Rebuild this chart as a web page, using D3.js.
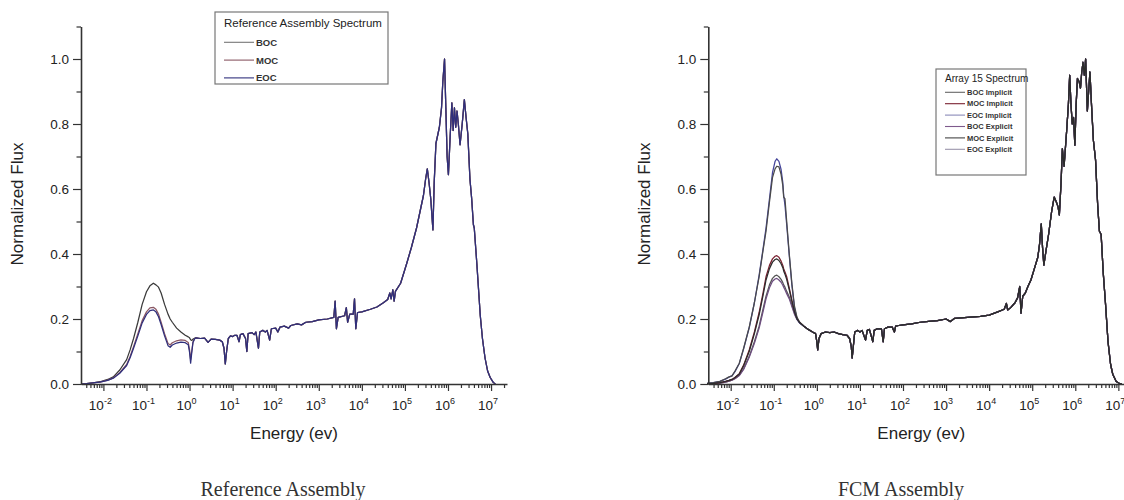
<!DOCTYPE html>
<html>
<head>
<meta charset="utf-8">
<script src="https://cdn.jsdelivr.net/npm/d3@7"></script>
<style>
  html, body { margin: 0; padding: 0; background: #fff; }
  svg { display: block; }
</style>
</head>
<body>
<svg id="chart" width="1124" height="500" font-family="Arial, 'Liberation Sans', sans-serif"></svg>
<script>
// ---------- Data (energy as log10 of eV, flux normalised to peak) ----------

// Reference assembly: thermal region, one grid for the three burnup states
const refThermalLogE = [-2.52, -2.39, -2.2, -2.08, -1.9, -1.77, -1.62, -1.46, -1.38, -1.3, -1.2, -1.1, -1.0, -0.92, -0.84, -0.78, -0.72, -0.66, -0.58, -0.5, -0.45, -0.4, -0.3, -0.2, -0.1, -0.03, 0.0, 0.025, 0.05, 0.08, 0.12];
const refBOCThermal = [0, 0.001, 0.004, 0.007, 0.014, 0.022, 0.043, 0.075, 0.105, 0.14, 0.19, 0.245, 0.284, 0.302, 0.31, 0.305, 0.298, 0.28, 0.245, 0.215, 0.2, 0.19, 0.172, 0.16, 0.15, 0.145, 0.142, 0.136, 0.134, 0.138, 0.141];
const refMOCThermal = [0, 0.001, 0.004, 0.006, 0.012, 0.019, 0.035, 0.06, 0.085, 0.115, 0.155, 0.195, 0.222, 0.234, 0.236, 0.23, 0.215, 0.19, 0.155, 0.125, 0.12, 0.127, 0.133, 0.136, 0.134, 0.128, 0.105, 0.075, 0.1, 0.13, 0.14];
const refEOCThermal = [0, 0.001, 0.004, 0.006, 0.011, 0.018, 0.033, 0.057, 0.081, 0.11, 0.148, 0.188, 0.214, 0.226, 0.228, 0.222, 0.207, 0.183, 0.148, 0.118, 0.113, 0.12, 0.126, 0.129, 0.127, 0.121, 0.098, 0.064, 0.095, 0.128, 0.139];

// Reference assembly: resonance and fast region (states coincide)
const refFastLogE = [0.15, 0.25, 0.35, 0.43, 0.5, 0.6, 0.7, 0.76, 0.8, 0.83, 0.86, 0.9, 0.95, 1.0, 1.05, 1.1, 1.15, 1.18, 1.24, 1.3, 1.33, 1.36, 1.45, 1.5, 1.54, 1.57, 1.6, 1.63, 1.7, 1.76, 1.8, 1.86, 1.9, 2.0, 2.05, 2.1, 2.2, 2.3, 2.35, 2.5, 2.6, 2.7, 2.85, 3.0, 3.2, 3.35, 3.38, 3.41, 3.45, 3.6, 3.64, 3.67, 3.72, 3.8, 3.83, 3.86, 3.9, 4.0, 4.2, 4.35, 4.5, 4.6, 4.65, 4.68, 4.72, 4.75, 4.78, 4.9, 5.04, 5.15, 5.27, 5.35, 5.43, 5.48, 5.52, 5.56, 5.6, 5.65, 5.68, 5.72, 5.8, 5.85, 5.88, 5.92, 5.95, 5.98, 6.01, 6.05, 6.09, 6.12, 6.15, 6.18, 6.21, 6.24, 6.28, 6.33, 6.38, 6.42, 6.46, 6.51, 6.55, 6.59, 6.61, 6.67, 6.75, 6.8, 6.86, 6.92, 6.98, 7.05, 7.1];
const refFastFlux = [0.142, 0.14, 0.141, 0.128, 0.138, 0.137, 0.135, 0.13, 0.11, 0.062, 0.1, 0.14, 0.148, 0.146, 0.15, 0.15, 0.13, 0.152, 0.155, 0.14, 0.1, 0.155, 0.158, 0.152, 0.16, 0.135, 0.11, 0.16, 0.165, 0.16, 0.165, 0.135, 0.17, 0.172, 0.16, 0.175, 0.178, 0.172, 0.18, 0.185, 0.182, 0.19, 0.192, 0.197, 0.2, 0.205, 0.255, 0.17, 0.205, 0.21, 0.235, 0.19, 0.215, 0.215, 0.262, 0.17, 0.22, 0.222, 0.23, 0.237, 0.25, 0.26, 0.28, 0.262, 0.29, 0.255, 0.285, 0.31, 0.37, 0.42, 0.48, 0.53, 0.58, 0.63, 0.662, 0.62, 0.57, 0.474, 0.62, 0.74, 0.79, 0.85, 0.93, 1.0, 0.85, 0.7, 0.644, 0.76, 0.865, 0.78, 0.85, 0.79, 0.84, 0.8, 0.736, 0.8, 0.875, 0.82, 0.77, 0.63, 0.57, 0.49, 0.48, 0.37, 0.21, 0.14, 0.08, 0.04, 0.02, 0.005, 0.0];

// FCM assembly: thermal region, six cases on one grid
const fcmThermalLogE = [-2.55, -2.4, -2.25, -2.12, -2.04, -1.97, -1.9, -1.8, -1.7, -1.57, -1.45, -1.34, -1.25, -1.18, -1.1, -1.03, -0.97, -0.93, -0.88, -0.83, -0.79, -0.77, -0.74, -0.7, -0.64, -0.58, -0.52, -0.46, -0.4];
const fcmBOCImplicit = [0.001, 0.002, 0.003, 0.006, 0.009, 0.012, 0.017, 0.027, 0.047, 0.085, 0.13, 0.178, 0.23, 0.27, 0.305, 0.325, 0.333, 0.335, 0.33, 0.322, 0.312, 0.305, 0.298, 0.285, 0.268, 0.243, 0.218, 0.2, 0.189];
const fcmMOCImplicit = [0.001, 0.002, 0.004, 0.008, 0.011, 0.014, 0.02, 0.032, 0.058, 0.105, 0.16, 0.22, 0.28, 0.33, 0.365, 0.385, 0.393, 0.395, 0.39, 0.378, 0.365, 0.355, 0.345, 0.33, 0.295, 0.258, 0.225, 0.203, 0.19];
const fcmEOCImplicit = [0.002, 0.004, 0.008, 0.015, 0.021, 0.025, 0.038, 0.063, 0.108, 0.173, 0.25, 0.335, 0.415, 0.48, 0.57, 0.65, 0.685, 0.693, 0.685, 0.66, 0.62, 0.58, 0.55, 0.49, 0.395, 0.305, 0.235, 0.2, 0.188];
const fcmBOCExplicit = [0.001, 0.002, 0.003, 0.006, 0.009, 0.012, 0.016, 0.026, 0.045, 0.082, 0.125, 0.172, 0.222, 0.262, 0.296, 0.316, 0.323, 0.325, 0.32, 0.313, 0.304, 0.298, 0.29, 0.278, 0.262, 0.238, 0.215, 0.198, 0.188];
const fcmMOCExplicit = [0.001, 0.002, 0.004, 0.008, 0.011, 0.014, 0.02, 0.031, 0.056, 0.1, 0.155, 0.213, 0.272, 0.32, 0.355, 0.375, 0.383, 0.385, 0.38, 0.37, 0.358, 0.348, 0.338, 0.322, 0.29, 0.255, 0.222, 0.2, 0.189];
const fcmEOCExplicit = [0.002, 0.004, 0.008, 0.016, 0.022, 0.025, 0.04, 0.064, 0.11, 0.175, 0.25, 0.33, 0.41, 0.47, 0.56, 0.635, 0.662, 0.67, 0.668, 0.645, 0.61, 0.575, 0.57, 0.5, 0.4, 0.31, 0.24, 0.205, 0.19];

// FCM assembly: resonance and fast region (cases coincide)
const fcmFastLogE = [-0.3, -0.2, -0.1, -0.03, 0.0, 0.02, 0.05, 0.1, 0.2, 0.3, 0.4, 0.5, 0.6, 0.7, 0.76, 0.8, 0.82, 0.85, 0.88, 0.95, 1.0, 1.05, 1.13, 1.17, 1.22, 1.3, 1.33, 1.4, 1.5, 1.54, 1.57, 1.65, 1.75, 1.8, 1.83, 1.9, 2.0, 2.2, 2.4, 2.6, 2.8, 3.0, 3.1, 3.2, 3.5, 3.8, 4.0, 4.2, 4.35, 4.4, 4.43, 4.5, 4.6, 4.66, 4.71, 4.74, 4.78, 4.84, 4.9, 4.97, 5.05, 5.13, 5.17, 5.21, 5.24, 5.27, 5.32, 5.38, 5.45, 5.51, 5.56, 5.6, 5.63, 5.67, 5.7, 5.74, 5.8, 5.84, 5.87, 5.9, 5.93, 5.96, 5.99, 6.02, 6.05, 6.09, 6.12, 6.15, 6.18, 6.21, 6.24, 6.28, 6.31, 6.34, 6.38, 6.42, 6.47, 6.52, 6.56, 6.6, 6.65, 6.7, 6.76, 6.82, 6.87, 6.95, 7.02, 7.08];
const fcmFastFlux = [0.178, 0.168, 0.16, 0.155, 0.13, 0.105, 0.14, 0.155, 0.16, 0.158, 0.16, 0.155, 0.152, 0.15, 0.14, 0.115, 0.08, 0.12, 0.16, 0.165, 0.16, 0.165, 0.135, 0.165, 0.168, 0.13, 0.165, 0.17, 0.17, 0.13, 0.17, 0.175, 0.175, 0.16, 0.178, 0.18, 0.182, 0.185, 0.19, 0.193, 0.195, 0.2, 0.192, 0.202, 0.205, 0.208, 0.212, 0.222, 0.23, 0.248, 0.228, 0.235, 0.25, 0.265, 0.3, 0.218, 0.27, 0.28, 0.3, 0.32, 0.355, 0.39, 0.43, 0.493, 0.42, 0.366, 0.41, 0.46, 0.53, 0.575, 0.56, 0.545, 0.52, 0.62, 0.724, 0.67, 0.78, 0.86, 0.95, 0.86, 0.8, 0.82, 0.735, 0.86, 0.94, 0.93, 0.91, 0.96, 0.99, 0.95, 1.0, 0.84, 0.9, 0.96, 0.85, 0.75, 0.69, 0.55, 0.47, 0.46, 0.34, 0.25, 0.13, 0.06, 0.03, 0.008, 0.002, 0];

// Axis labelling
const xTickExponents = [-2, -1, 0, 1, 2, 3, 4, 5, 6, 7];
const yTickLabels = ["0.0", "0.2", "0.4", "0.6", "0.8", "1.0"];
const yTickValues = [0, 0.2, 0.4, 0.6, 0.8, 1.0];

// ---------- Layout ----------
const svg = d3.select("#chart");
const P = { left: 81, right: 507, top: 26.5, bottom: 384 };
const panelShift = 627.3;

const x = d3.scaleLog().domain([Math.pow(10, -2.52), Math.pow(10, 7.37)]).range([P.left, P.right]);
const y = d3.scaleLinear().domain([0, 1.1]).range([P.bottom, P.top]);

function zip(logE, flux) { return logE.map((e, i) => [e, flux[i]]); }
const line = d3.line().x(d => x(Math.pow(10, d[0]))).y(d => y(d[1]));

function drawAxes(g) {
  // minor log ticks on energy axis
  const minor = [];
  for (let k = -3; k <= 7; k++) {
    for (let m = 2; m <= 9; m++) {
      const v = m * Math.pow(10, k);
      if (v >= x.domain()[0] && v <= x.domain()[1]) minor.push(v);
    }
  }
  const ax = g.append("g").attr("transform", `translate(0,${P.bottom})`);
  ax.append("g").call(d3.axisBottom(x).tickValues(minor).tickSize(4).tickFormat(""))
    .call(s => s.select(".domain").remove());
  const major = ax.append("g").call(d3.axisBottom(x).tickValues(xTickExponents.map(e => Math.pow(10, e))).tickSize(7).tickSizeOuter(0).tickFormat(""));
  major.select(".domain").attr("stroke-width", 1.6);
  ax.selectAll("line").attr("stroke", "#333").attr("stroke-width", 1.2);
  ax.selectAll(".domain").attr("stroke", "#333");

  // power-of-ten labels with raised exponent
  xTickExponents.forEach(e => {
    const t = g.append("text")
      .attr("x", x(Math.pow(10, e)) - 3)
      .attr("y", P.bottom + 26)
      .attr("text-anchor", "middle")
      .attr("font-size", 13.5)
      .attr("fill", "#222");
    t.append("tspan").text("10");
    t.append("tspan").attr("font-size", 9).attr("dy", -6).text(e);
  });

  // flux axis
  const ay = g.append("g").attr("transform", `translate(${P.left},0)`);
  ay.append("g").call(d3.axisLeft(y).tickValues(d3.range(1, 12, 2).map(i => i / 10)).tickSize(4.5).tickFormat(""))
    .call(s => s.select(".domain").remove());
  const yMaj = ay.append("g").call(d3.axisLeft(y).tickValues(yTickValues).tickSize(8).tickSizeOuter(0)
    .tickFormat((d, i) => yTickLabels[i]));
  yMaj.select(".domain").attr("stroke-width", 1.6);
  ay.selectAll("line").attr("stroke", "#333").attr("stroke-width", 1.2);
  ay.selectAll(".domain").attr("stroke", "#333");
  yMaj.selectAll("text").attr("font-size", 13.5).attr("font-family", "Arial, 'Liberation Sans', sans-serif")
    .attr("fill", "#222").attr("x", -12);

  g.append("text")
    .attr("transform", `translate(23,${204}) rotate(-90)`)
    .attr("text-anchor", "middle")
    .attr("font-size", 17)
    .attr("fill", "#222")
    .text("Normalized Flux");
  g.append("text")
    .attr("x", 294).attr("y", 439)
    .attr("text-anchor", "middle")
    .attr("font-size", 17)
    .attr("fill", "#222")
    .text("Energy (ev)");
}

function drawSeries(g, series) {
  series.forEach(s => {
    g.append("path")
      .datum(s.points)
      .attr("fill", "none")
      .attr("stroke", s.color)
      .attr("stroke-width", 1.25)
      .attr("stroke-linejoin", "round")
      .attr("d", line);
  });
}

function drawLegend(g, box, title, titleSize, items, rowSize, rowStart, rowStep, lineLen) {
  g.append("rect")
    .attr("x", box.x).attr("y", box.y).attr("width", box.w).attr("height", box.h)
    .attr("fill", "#fff").attr("stroke", "#777").attr("stroke-width", 1.2);
  g.append("text")
    .attr("x", box.x + 9).attr("y", box.y + titleSize + 3)
    .attr("font-size", titleSize)
    .attr("fill", "#222")
    .text(title);
  items.forEach((it, i) => {
    const cy = rowStart + i * rowStep;
    g.append("line")
      .attr("x1", box.x + 9).attr("x2", box.x + 9 + lineLen)
      .attr("y1", cy).attr("y2", cy)
      .attr("stroke", it.color).attr("stroke-width", 1.1);
    g.append("text")
      .attr("x", box.x + 11 + lineLen).attr("y", cy + rowSize * 0.36)
      .attr("font-size", rowSize)
      .attr("font-weight", "bold")
      .attr("fill", "#333")
      .text(it.name);
  });
}

function drawCaption(g, cx, label) {
  g.append("text")
    .attr("x", cx).attr("y", 496)
    .attr("text-anchor", "middle")
    .attr("font-family", "'Liberation Serif', 'Times New Roman', serif")
    .attr("font-size", 20)
    .attr("fill", "#333")
    .text(label);
}

// ---------- Left panel: reference assembly ----------
const gL = svg.append("g");
const refColors = { BOC: "#3a3a3a", MOC: "#8a5763", EOC: "#2f2f7c" };
const refSeries = [
  { color: refColors.BOC, points: zip(refThermalLogE, refBOCThermal).concat(zip(refFastLogE, refFastFlux)) },
  { color: refColors.MOC, points: zip(refThermalLogE, refMOCThermal).concat(zip(refFastLogE, refFastFlux)) },
  { color: refColors.EOC, points: zip(refThermalLogE, refEOCThermal).concat(zip(refFastLogE, refFastFlux)) }
];
drawSeries(gL, refSeries);
drawAxes(gL);
drawLegend(gL, { x: 215, y: 12, w: 173, h: 72 }, "Reference Assembly Spectrum", 11.5,
  [{ name: "BOC", color: "#777" }, { name: "MOC", color: refColors.MOC }, { name: "EOC", color: refColors.EOC }],
  9.5, 42.3, 17.8, 30);
drawCaption(gL, 283, "Reference Assembly");

// ---------- Right panel: FCM assembly ----------
const gR = svg.append("g").attr("transform", `translate(${panelShift},0)`);
const fcmColors = {
  BOCi: "#555555", MOCi: "#7a2030", EOCi: "#45459a",
  BOCe: "#6e4e80", MOCe: "#2b2b2b", EOCe: "#4a4a4a"
};
const fcmSeries = [
  { color: fcmColors.BOCi, points: zip(fcmThermalLogE, fcmBOCImplicit).concat(zip(fcmFastLogE, fcmFastFlux)) },
  { color: fcmColors.BOCe, points: zip(fcmThermalLogE, fcmBOCExplicit).concat(zip(fcmFastLogE, fcmFastFlux)) },
  { color: fcmColors.MOCi, points: zip(fcmThermalLogE, fcmMOCImplicit).concat(zip(fcmFastLogE, fcmFastFlux)) },
  { color: fcmColors.EOCi, points: zip(fcmThermalLogE, fcmEOCImplicit).concat(zip(fcmFastLogE, fcmFastFlux)) },
  { color: fcmColors.EOCe, points: zip(fcmThermalLogE, fcmEOCExplicit).concat(zip(fcmFastLogE, fcmFastFlux)) },
  { color: fcmColors.MOCe, points: zip(fcmThermalLogE, fcmMOCExplicit).concat(zip(fcmFastLogE, fcmFastFlux)) }
];
drawSeries(gR, fcmSeries);
drawAxes(gR);
drawLegend(gR, { x: 936 - panelShift, y: 69, w: 90, h: 106 }, "Array 15 Spectrum", 10,
  [
    { name: "BOC Implicit", color: "#666" },
    { name: "MOC Implicit", color: fcmColors.MOCi },
    { name: "EOC Implicit", color: "#8a8ab8" },
    { name: "BOC Explicit", color: "#7e5a8c" },
    { name: "MOC Explicit", color: "#444" },
    { name: "EOC Explicit", color: "#9a94aa" }
  ],
  7.5, 92.3, 11.4, 20);
drawCaption(gR, 901 - panelShift, "FCM Assembly");
</script>
</body>
</html>
